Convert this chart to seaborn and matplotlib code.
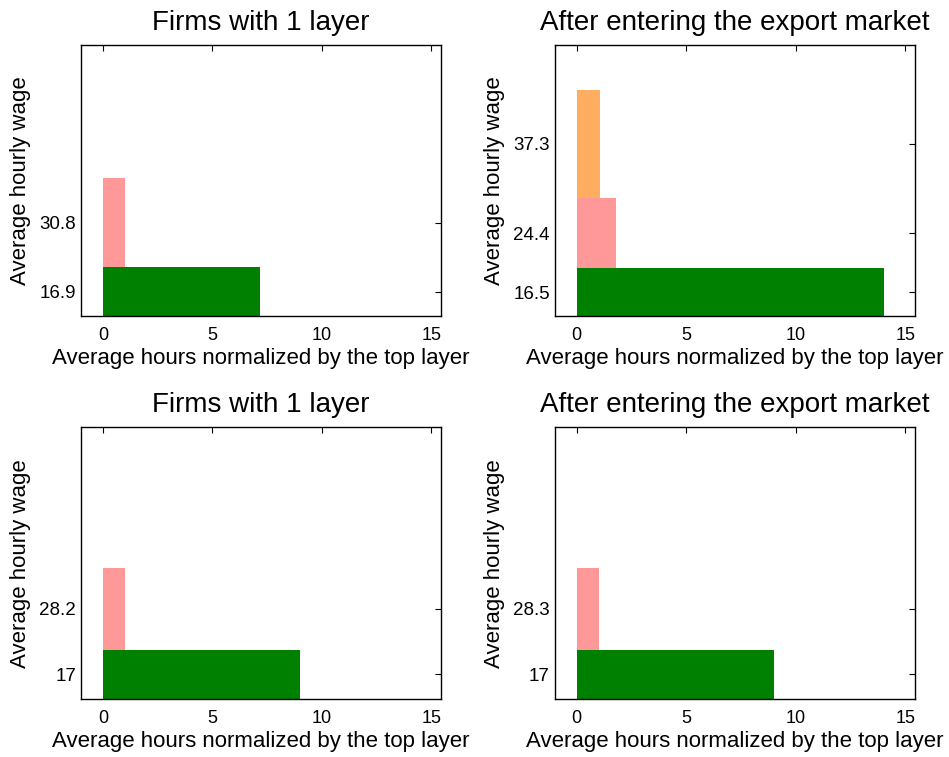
import numpy as np
import matplotlib
matplotlib.use("Agg")
import matplotlib.pyplot as plt
import seaborn as sns

# ------------------ Data ------------------
titles = ["Firms with 1 layer", "After entering the export market",
          "Firms with 1 layer", "After entering the export market"]

# average hours per layer (normalized by top layer), bottom layer first
hours_tl = [7.2, 1.0]
hours_tr = [14.05, 1.82, 1.05]
hours_bl = [9.0, 1.0]
hours_br = [9.0, 1.0]

# average hourly wage per layer, bottom layer first
wages_tl = [16.9, 30.8]
wages_tr = [16.5, 24.4, 37.3]
wages_bl = [17, 28.2]
wages_br = [17, 28.3]

layer_colors = ["#008000", "#FF9999", "#FFAD60"]

panels = [(hours_tl, wages_tl), (hours_tr, wages_tr),
          (hours_bl, wages_bl), (hours_br, wages_br)]

# ------------------ Style ------------------
sns.set_theme(style="white")
plt.rcParams["font.family"] = ["Liberation Sans", "DejaVu Sans"]
plt.rcParams["axes.edgecolor"] = "black"
plt.rcParams["axes.linewidth"] = 1.0

fig = plt.figure(figsize=(9.49, 7.57), dpi=100)
positions = [
    [0.0854, 0.5826, 0.3793, 0.358],
    [0.5845, 0.5826, 0.3797, 0.358],
    [0.0854, 0.0766, 0.3793, 0.359],
    [0.5845, 0.0766, 0.3797, 0.359],
]

for pos, title, (hours, wages) in zip(positions, titles, panels):
    ax = fig.add_axes(pos)
    bottoms = np.concatenate([[0], np.cumsum(wages)[:-1]])
    ax.bar(np.zeros(len(hours)), wages, width=hours, bottom=bottoms,
           align="edge", color=layer_colors[:len(hours)], linewidth=0)
    ax.set_xlim(-1, 15.45)
    ax.set_ylim(0, 93.8)
    ax.set_xticks([0, 5, 10, 15])
    ax.set_yticks(bottoms + np.array(wages) / 2)
    ax.set_yticklabels([f"{w:g}" for w in wages])
    ax.tick_params(direction="in", length=4, width=0.8, color="black",
                   top=True, right=True, labelcolor="black")
    ax.tick_params(axis="x", labelsize=13, pad=8)
    ax.tick_params(axis="y", labelsize=13.5, pad=3.5)
    for s in ax.spines.values():
        s.set_visible(True)
        s.set_color("black")
    ax.set_title(title, fontsize=20, color="black", pad=11)
    ax.set_xlabel("Average hours normalized by the top layer", fontsize=16, color="black", labelpad=2.5)
    ax.set_ylabel("Average hourly wage", fontsize=16, color="black", labelpad=6)

fig.savefig("out.png", dpi=100)
